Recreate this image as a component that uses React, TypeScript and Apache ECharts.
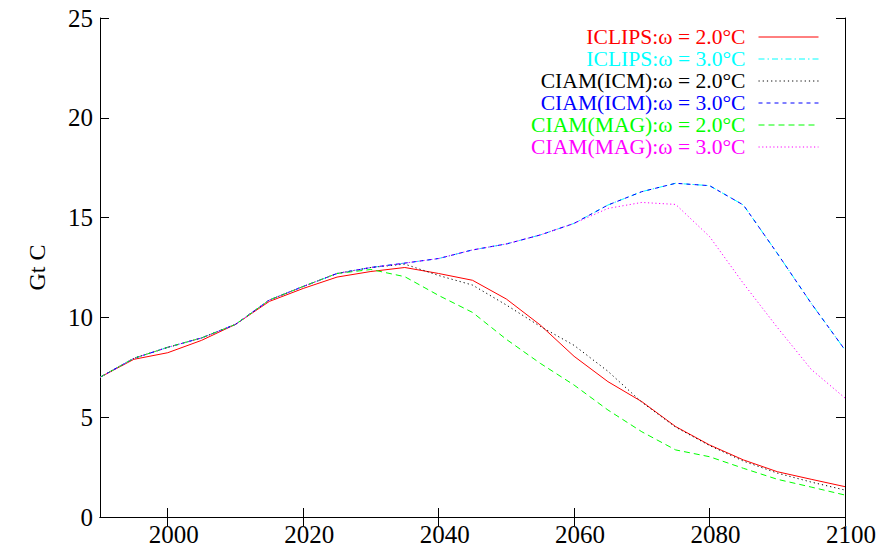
import React, { useEffect, useRef } from "react";
import * as echarts from "echarts";

const years = [1990, 1995, 2000, 2005, 2010, 2015, 2020, 2025, 2030, 2035, 2040, 2045, 2050, 2055, 2060, 2065, 2070, 2075, 2080, 2085, 2090, 2095, 2100];

const iclips20 = [7.0, 7.9, 8.23, 8.85, 9.65, 10.8, 11.45, 12.02, 12.3, 12.5, 12.2, 11.86, 10.92, 9.62, 8.05, 6.78, 5.78, 4.53, 3.61, 2.86, 2.27, 1.89, 1.52];
const iclips30 = [7.0, 7.95, 8.5, 8.97, 9.65, 10.87, 11.55, 12.2, 12.5, 12.72, 12.95, 13.38, 13.68, 14.13, 14.71, 15.63, 16.3, 16.72, 16.6, 15.63, 13.21, 10.71, 8.37];
const ciamIcm20 = [7.0, 7.95, 8.5, 8.97, 9.65, 10.87, 11.55, 12.2, 12.5, 12.67, 12.1, 11.62, 10.62, 9.55, 8.6, 7.3, 5.75, 4.5, 3.58, 2.8, 2.2, 1.75, 1.35];
const ciamIcm30 = [7.0, 7.95, 8.5, 8.97, 9.65, 10.87, 11.55, 12.2, 12.5, 12.72, 12.95, 13.38, 13.68, 14.13, 14.71, 15.63, 16.3, 16.72, 16.6, 15.63, 13.21, 10.71, 8.37];
const ciamMag20 = [7.0, 7.95, 8.5, 8.97, 9.65, 10.87, 11.55, 12.2, 12.4, 12.04, 11.1, 10.25, 8.9, 7.7, 6.61, 5.36, 4.27, 3.36, 3.02, 2.44, 1.89, 1.5, 1.1];
const ciamMag30 = [7.0, 7.95, 8.5, 8.97, 9.65, 10.87, 11.55, 12.2, 12.5, 12.72, 12.95, 13.38, 13.68, 14.13, 14.71, 15.46, 15.76, 15.66, 14.05, 11.7, 9.5, 7.4, 5.96];

const seriesNames = [
  "ICLIPS:ω = 2.0°C",
  "ICLIPS:ω = 3.0°C",
  "CIAM(ICM):ω = 2.0°C",
  "CIAM(ICM):ω = 3.0°C",
  "CIAM(MAG):ω = 2.0°C",
  "CIAM(MAG):ω = 3.0°C",
];
const seriesValues = [iclips20, iclips30, ciamIcm20, ciamIcm30, ciamMag20, ciamMag30];
const seriesColors = ["#ff0000", "#00ffff", "#000000", "#0000ff", "#00ff00", "#ff00ff"];
const seriesDashes: (number[] | "solid")[] = ["solid", [6, 3, 1.5, 3], [1.2, 3], [4, 4], [6, 4], [1.2, 2.5]];

const xTicks = [2000, 2020, 2040, 2060, 2080, 2100];
const FONT = "Times New Roman";

export default function App() {
  const ref = useRef<HTMLDivElement>(null);
  useEffect(() => {
    if (!ref.current) return;
    const chart = echarts.init(ref.current, undefined, { renderer: "svg" });
    const axisCommon = {
      axisLine: { show: true, lineStyle: { color: "#000", width: 1 } },
      splitLine: { show: false },
    };
    const labelStyle = { color: "#000", fontFamily: FONT, fontSize: 25 };
    chart.setOption({
      animation: false,
      backgroundColor: "#fff",
      textStyle: { fontFamily: FONT, fontSize: 20, color: "#000" },
      grid: { left: 100, right: 46, top: 18, bottom: 33, containLabel: false },
      legend: {
        orient: "vertical",
        align: "right",
        right: 67,
        top: 21,
        itemWidth: 60,
        itemHeight: 14,
        itemGap: 0,
        selectedMode: false,
        itemStyle: { color: "rgba(0,0,0,0)", borderWidth: 0, borderColor: "rgba(0,0,0,0)", opacity: 0 },
        lineStyle: { width: 1 },
        textStyle: { fontFamily: FONT, fontSize: 21.6, lineHeight: 21.6, padding: [0, 8, 0, 0] },
        data: seriesNames.map((n, i) => ({ name: n, textStyle: { color: seriesColors[i] } })),
      },
      xAxis: [
        {
          type: "value",
          min: 1990,
          max: 2100,
          position: "bottom",
          ...axisCommon,
          axisTick: { show: true, inside: true, length: 9, customValues: xTicks, lineStyle: { color: "#000" } },
          axisLabel: { ...labelStyle, customValues: xTicks, margin: 5, padding: [0, 0, 0, 12], formatter: (v: number) => String(v) },
        },
        {
          type: "value",
          min: 1990,
          max: 2100,
          position: "top",
          ...axisCommon,
          axisTick: { show: true, inside: true, length: 9, customValues: xTicks, lineStyle: { color: "#000" } },
          axisLabel: { show: false },
        },
      ],
      yAxis: [
        {
          type: "value",
          min: 0,
          max: 25,
          interval: 5,
          position: "left",
          name: "Gt C",
          nameLocation: "middle",
          nameGap: 51,
          nameRotate: 90,
          nameTextStyle: { color: "#000", fontFamily: FONT, fontSize: 24 },
          ...axisCommon,
          axisTick: { show: true, inside: true, length: 9, lineStyle: { color: "#000" } },
          axisLabel: { ...labelStyle, margin: 7, formatter: (v: number) => String(v) },
        },
        {
          type: "value",
          min: 0,
          max: 25,
          interval: 5,
          position: "right",
          ...axisCommon,
          axisTick: { show: true, inside: true, length: 9, lineStyle: { color: "#000" } },
          axisLabel: { show: false },
        },
      ],
      series: seriesNames.map((n, i) => ({
        name: n,
        type: "line",
        xAxisIndex: 0,
        yAxisIndex: 0,
        symbol: "none",
        showSymbol: false,
        color: seriesColors[i],
        lineStyle: { color: seriesColors[i], width: 1, type: seriesDashes[i] },
        data: years.map((y, k) => [y, seriesValues[i][k]]),
        z: 2 + i,
      })),
    });
    return () => chart.dispose();
  }, []);
  return (
    <div
      ref={ref}
      style={{ position: "fixed", left: 0, top: 0, width: 891, height: 550, background: "#fff" }}
    />
  );
}
